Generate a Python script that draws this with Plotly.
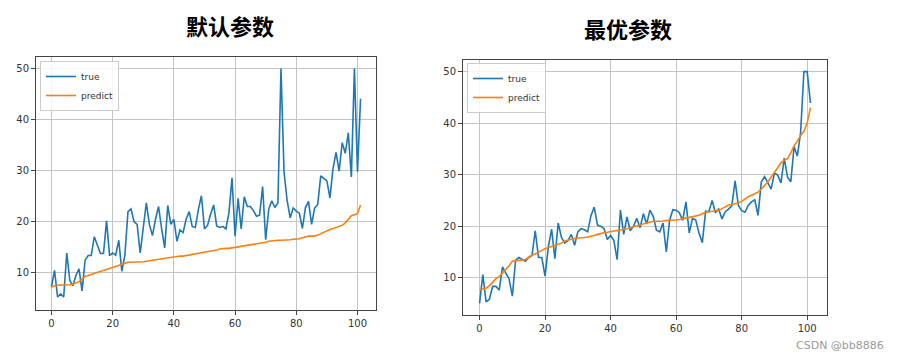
import plotly.graph_objects as go

x_idx = list(range(102))

left_true = [7.3, 10.5, 5.3, 5.9, 5.3, 13.9, 8.5, 7.5, 9.5, 10.8,
             6.5, 12.5, 13.4, 13.4, 17.1, 15.3, 13.8, 13.8, 20.2, 13.4,
             13.9, 13.5, 16.4, 10.3, 13.5, 22.0, 22.5, 20.0, 19.5, 13.9,
             19.3, 23.7, 19.5, 17.3, 20.5, 23.0, 18.6, 14.9, 23.2, 19.5,
             20.5, 16.2, 18.4, 17.9, 20.5, 22.0, 19.1, 18.9, 22.4, 25.1,
             18.6, 19.3, 21.5, 23.3, 19.2, 18.9, 19.1, 18.6, 21.8, 28.6,
             17.2, 24.6, 18.6, 24.9, 23.0, 23.0, 22.2, 21.1, 21.3, 26.9,
             16.5, 22.5, 24.1, 22.8, 23.7, 50.0, 29.8, 24.2, 20.8, 22.7,
             22.1, 21.7, 18.7, 22.8, 24.0, 19.5, 22.7, 23.4, 29.0, 28.4,
             28.0, 24.7, 30.4, 33.6, 29.9, 35.5, 33.4, 37.4, 28.8, 50.0,
             29.8, 44.1]

left_pred = [7.2, 7.5, 7.6, 7.6, 7.6, 7.6, 7.7, 7.8, 8.0, 8.3,
             8.8, 9.3, 9.5, 9.7, 9.9, 10.1, 10.3, 10.5, 10.7, 10.9,
             11.2, 11.3, 11.5, 11.8, 11.9, 12.1, 12.1, 12.1, 12.2, 12.2,
             12.2, 12.3, 12.4, 12.5, 12.5, 12.6, 12.7, 12.8, 12.9, 13.0,
             13.1, 13.2, 13.3, 13.3, 13.4, 13.5, 13.6, 13.7, 13.9, 14.0,
             14.1, 14.2, 14.3, 14.4, 14.5, 14.7, 14.8, 14.8, 14.8, 14.9,
             14.9, 15.0, 15.1, 15.2, 15.3, 15.4, 15.5, 15.6, 15.7, 15.8,
             16.0, 16.2, 16.3, 16.3, 16.4, 16.4, 16.4, 16.5, 16.5, 16.6,
             16.6, 16.7, 16.9, 17.1, 17.2, 17.2, 17.2, 17.4, 17.7, 17.9,
             18.2, 18.5, 18.7, 18.9, 19.1, 19.3, 19.8, 20.4, 21.2, 21.4,
             21.6, 23.3]

right_true = [5.0, 10.6, 5.3, 5.8, 8.3, 8.3, 7.6, 12.1, 10.9, 9.8,
              6.4, 13.4, 13.9, 13.5, 13.2, 13.9, 14.3, 19.1, 13.9, 13.9,
              10.3, 16.0, 19.4, 13.7, 20.6, 17.8, 16.7, 17.2, 18.4, 16.3,
              18.9, 19.5, 19.3, 18.9, 22.0, 23.7, 20.2, 20.0, 19.5, 17.4,
              18.2, 17.2, 13.5, 23.1, 18.4, 21.8, 19.1, 20.0, 21.5, 19.7,
              22.4, 20.4, 23.1, 21.9, 19.2, 18.9, 20.6, 15.0, 21.1, 23.2,
              23.1, 22.6, 21.1, 24.7, 18.7, 21.5, 21.2, 18.6, 16.8, 22.9,
              22.8, 25.0, 22.6, 23.3, 21.4, 22.8, 23.3, 24.0, 28.8, 24.0,
              23.0, 22.7, 24.0, 24.7, 25.1, 22.1, 28.6, 29.6, 28.3, 27.2,
              30.3, 29.9, 28.4, 33.2, 29.5, 28.6, 35.4, 33.6, 38.2, 50.0,
              50.0, 43.9]

right_pred = [7.6, 7.8, 8.0, 8.4, 9.2, 9.8, 10.2, 10.9, 11.5, 12.3,
              13.2, 13.3, 13.3, 13.4, 13.5, 14.0, 14.4, 14.6, 15.0, 15.3,
              15.6, 15.8, 16.1, 16.3, 16.5, 16.7, 17.1, 17.3, 17.5, 17.6,
              17.7, 17.7, 17.8, 17.9, 18.0, 18.2, 18.4, 18.6, 18.7, 18.8,
              18.9, 19.0, 19.1, 19.2, 19.3, 19.5, 19.7, 19.9, 20.1, 20.3,
              20.5, 20.7, 20.8, 20.9, 20.9, 21.0, 21.0, 21.1, 21.1, 21.1,
              21.2, 21.3, 21.5, 21.6, 21.7, 21.8, 22.0, 22.1, 22.4, 22.7,
              22.8, 22.9, 23.0, 23.1, 23.4, 23.7, 24.1, 24.2, 24.3, 24.5,
              24.8, 25.3, 25.7, 26.0, 26.3, 26.6, 27.2, 27.8, 28.6, 29.5,
              30.4, 31.3, 32.3, 32.8, 33.1, 34.2, 35.6, 36.5, 37.6, 38.4,
              40.0, 43.0]

titles = ["默认参数", "最优参数"]
x_ticks = [0, 20, 40, 60, 80, 100]
y_ticks = [10, 20, 30, 40, 50]

BLUE = "#1f77b4"
ORANGE = "#ff7f0e"

fig = go.Figure()
fig.add_trace(go.Scatter(x=x_idx, y=left_true, mode="lines", name="true",
                         line=dict(color=BLUE, width=1.6), xaxis="x", yaxis="y", legend="legend"))
fig.add_trace(go.Scatter(x=x_idx, y=left_pred, mode="lines", name="predict",
                         line=dict(color=ORANGE, width=1.6), xaxis="x", yaxis="y", legend="legend"))
fig.add_trace(go.Scatter(x=x_idx, y=right_true, mode="lines", name="true",
                         line=dict(color=BLUE, width=1.6), xaxis="x2", yaxis="y2", legend="legend2"))
fig.add_trace(go.Scatter(x=x_idx, y=right_pred, mode="lines", name="predict",
                         line=dict(color=ORANGE, width=1.6), xaxis="x2", yaxis="y2", legend="legend2"))

axis_common = dict(showgrid=True, gridcolor="#c4c4c4", gridwidth=1, zeroline=False,
                   showline=True, linecolor="#444444", linewidth=1, mirror=True,
                   ticks="outside", ticklen=4, tickcolor="#444444", automargin=False,
                   tickfont=dict(family="DejaVu Sans", size=10, color="#333333"))

# the page body has an 8px margin; work in screen pixels and shift
OFF = 8
W, H = 900 - 2 * OFF, 360 - 2 * OFF


def px(sx):
    return (sx - OFF) / W


def py(sy):
    return 1 - (sy - OFF) / H


fig.update_layout(
    width=W, height=H,
    margin=dict(l=0, r=0, t=0, b=0, autoexpand=False),
    paper_bgcolor="white", plot_bgcolor="white",
    xaxis=dict(domain=[px(36), px(376)], range=[-5.05, 106.05], tickvals=x_ticks, anchor="y", **axis_common),
    yaxis=dict(domain=[py(310), py(57)], range=[2.75, 52.25], tickvals=y_ticks, anchor="x", **axis_common),
    xaxis2=dict(domain=[px(463), px(827)], range=[-5.05, 106.05], tickvals=x_ticks, anchor="y2", **axis_common),
    yaxis2=dict(domain=[py(315), py(60)], range=[2.75, 52.25], tickvals=y_ticks, anchor="x2", **axis_common),
    legend=dict(x=px(40), y=py(61), xanchor="left", yanchor="top",
                bgcolor="rgba(255,255,255,0.85)", bordercolor="#cccccc", borderwidth=1,
                font=dict(family="DejaVu Sans", size=9, color="#333333"),
                itemwidth=30, tracegroupgap=0),
    legend2=dict(x=px(467), y=py(63), xanchor="left", yanchor="top",
                 bgcolor="rgba(255,255,255,0.85)", bordercolor="#cccccc", borderwidth=1,
                 font=dict(family="DejaVu Sans", size=9, color="#333333"),
                 itemwidth=30, tracegroupgap=0),
    annotations=[
        dict(text="<b>" + titles[0] + "</b>", x=px(230), y=py(25), xref="paper", yref="paper",
             xanchor="center", yanchor="middle", showarrow=False,
             font=dict(family="Noto Sans CJK SC", size=22, color="#000000")),
        dict(text="<b>" + titles[1] + "</b>", x=px(628), y=py(28), xref="paper", yref="paper",
             xanchor="center", yanchor="middle", showarrow=False,
             font=dict(family="Noto Sans CJK SC", size=22, color="#000000")),
        dict(text="CSDN @bb8886", x=px(886), y=py(345), xref="paper", yref="paper",
             xanchor="right", yanchor="middle", showarrow=False,
             font=dict(family="DejaVu Sans", size=11, color="#9a9a9a")),
    ],
)

fig.write_html("out.html")
